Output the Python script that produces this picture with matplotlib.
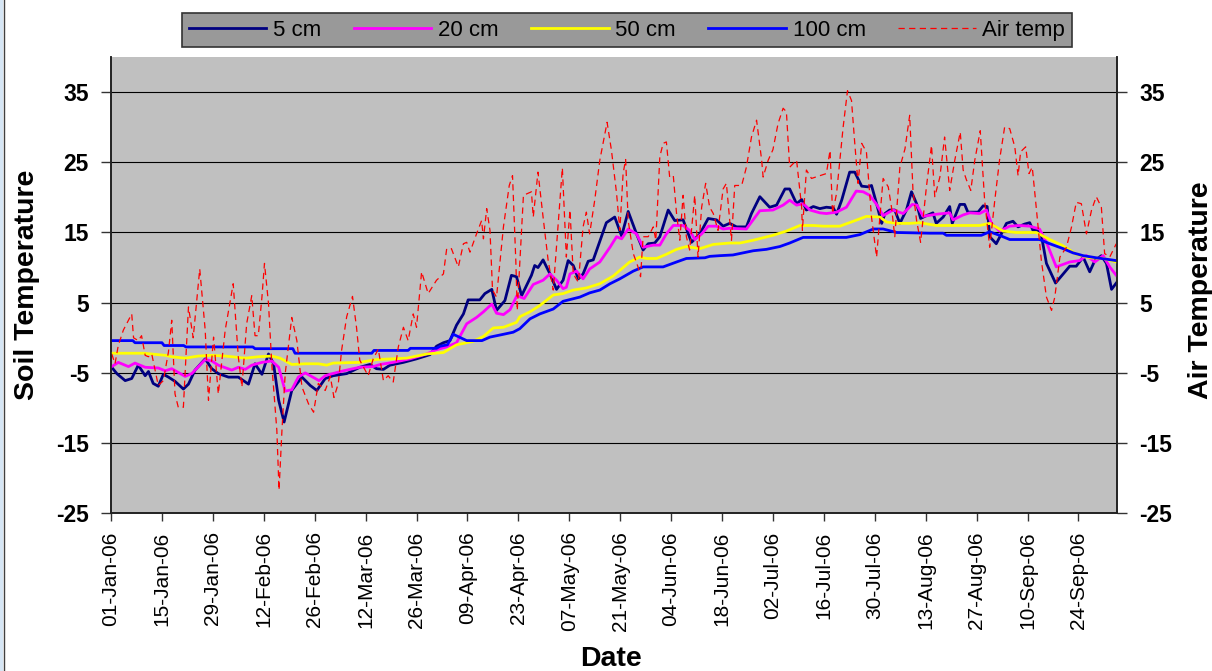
import numpy as np
import pandas as pd
import matplotlib
matplotlib.use("Agg")
import matplotlib.pyplot as plt
import matplotlib.dates as mdates
from matplotlib.lines import Line2D
from datetime import datetime

# ---- data: day offsets from 1 Jan 2006 and temperatures (deg C) ----
d5 = [0.2, 1.6, 3.9, 5.7, 7.5, 9.4, 10.3, 11.6, 13.0, 14.4, 15.8, 17.6, 19.9, 21.3, 23.1, 25.9, 27.7, 29.5,
      32.3, 35.0, 37.8, 39.6, 41.5, 43.3, 44.7, 46.1, 47.6, 49.7, 52.5, 54.8, 56.6, 58.9, 61.1, 64.8, 68.4,
      71.2, 73.0, 74.9, 76.7, 80.4, 84.0, 87.7, 89.5, 91.4, 93.2, 95.0, 96.9, 98.2, 101.4, 102.8, 104.7,
      106.0, 108.3, 110.1, 111.5, 112.9, 115.6, 116.5, 117.4, 118.8, 120.7, 122.5, 124.3, 125.7, 127.1,
      128.5, 129.8, 131.2, 132.6, 136.2, 138.5, 140.4, 142.2, 144.5, 146.3, 147.7, 149.5, 150.9, 153.2,
      155.0, 157.3, 159.6, 161.9, 164.2, 166.5, 168.3, 170.1, 172.0, 174.7, 176.1, 178.4, 181.1, 183.0,
      185.3, 186.6, 188.5, 189.9, 191.2, 193.1, 194.9, 196.7, 198.6, 199.5, 200.9, 203.1, 204.5, 206.4,
      208.2, 209.1, 210.5, 211.9, 212.8, 214.1, 215.5, 216.9, 218.7, 220.1, 221.5, 222.6, 224.2, 226.0,
      226.9, 228.8, 230.6, 231.3, 233.4, 234.7, 235.6, 238.4, 239.8, 240.9, 241.6, 243.4, 244.8, 246.2,
      248.0, 249.4, 251.2, 252.6, 253.5, 254.9, 255.8, 257.2, 259.7, 261.8, 263.6, 265.4, 267.3, 269.1,
      270.5, 272.3, 273.7, 275.1, 276.4]
t5 = [-4.2, -5.1, -6.1, -5.8, -3.9, -5.4, -4.8, -6.5, -6.9, -5.2, -5.6, -6.2, -7.3, -6.6, -4.6, -3.0, -4.4,
      -5.1, -5.6, -5.6, -6.6, -3.7, -5.2, -2.3, -3.7, -8.9, -12.0, -7.5, -5.6, -6.8, -7.5, -5.8, -5.4, -5.1,
      -4.2, -3.8, -4.4, -4.5, -3.9, -3.5, -3.0, -2.4, -1.2, -0.7, -0.4, 1.8, 3.4, 5.4, 5.4, 6.3, 6.9, 3.9,
      5.3, 8.9, 8.7, 6.0, 8.9, 10.3, 10.0, 11.1, 9.1, 6.9, 8.2, 11.0, 10.3, 8.4, 9.1, 10.9, 11.1, 16.4,
      17.2, 14.5, 18.0, 14.8, 12.5, 13.4, 13.5, 14.4, 18.2, 16.7, 16.8, 13.6, 14.8, 17.0, 16.8, 15.9, 16.3,
      15.8, 15.8, 17.7, 20.1, 18.6, 18.9, 21.2, 21.2, 19.1, 19.7, 18.2, 18.7, 18.4, 18.6, 18.5, 17.6, 19.6,
      23.6, 23.6, 21.6, 21.5, 21.7, 19.1, 16.3, 17.7, 18.2, 18.2, 16.3, 18.2, 20.8, 19.1, 17.0, 17.4, 17.8,
      16.3, 17.2, 18.7, 16.3, 19.0, 19.0, 17.9, 17.9, 18.8, 18.7, 14.4, 13.4, 14.8, 16.3, 16.6, 15.8, 16.2,
      16.4, 15.3, 15.3, 14.6, 10.6, 7.8, 9.1, 10.2, 10.2, 11.5, 9.4, 11.0, 11.7, 10.6, 6.9, 7.8]

d20 = [0.2, 2.0, 4.8, 6.6, 9.4, 13.0, 14.9, 16.7, 20.4, 22.2, 25.9, 27.7, 29.5, 33.2, 35.0, 36.9, 38.7,
       41.5, 44.2, 46.1, 47.9, 49.7, 51.5, 53.4, 57.2, 58.9, 60.2, 63.9, 68.4, 72.1, 74.0, 77.6, 82.2, 86.8,
       89.5, 92.3, 95.0, 97.8, 100.5, 102.4, 104.7, 106.0, 107.9, 109.7, 111.6, 113.6, 116.1, 118.8, 120.7,
       122.5, 124.3, 125.2, 126.2, 128.0, 129.8, 131.6, 134.4, 137.2, 139.0, 140.4, 142.2, 144.5, 146.3,
       149.1, 150.9, 152.7, 154.6, 157.3, 159.1, 160.5, 162.4, 164.2, 166.5, 168.3, 170.1, 174.7, 178.4,
       182.0, 184.8, 186.6, 188.5, 190.3, 192.2, 194.9, 196.7, 199.5, 202.2, 204.9, 206.8, 208.6, 210.5,
       212.3, 215.0, 217.8, 220.3, 221.6, 223.3, 226.9, 230.6, 231.5, 234.3, 236.1, 238.8, 240.7, 242.1,
       244.3, 247.1, 249.8, 252.6, 255.3, 257.2, 259.9, 263.6, 266.3, 268.2, 270.5, 272.8, 274.6, 276.4]
t20 = [-4.1, -3.5, -4.1, -3.6, -4.2, -4.3, -4.7, -4.4, -5.5, -5.1, -3.1, -3.3, -3.9, -4.6, -4.2, -4.5, -3.9,
       -3.5, -3.3, -4.2, -7.6, -7.4, -5.6, -5.0, -6.1, -5.4, -5.2, -4.7, -4.2, -4.1, -3.8, -3.5, -3.0, -2.3,
       -1.7, -1.3, -0.7, 2.0, 2.9, 3.7, 4.8, 3.5, 3.3, 4.0, 6.0, 5.6, 7.6, 8.2, 9.1, 8.2, 7.0, 7.2, 9.1, 9.5,
       8.4, 9.8, 10.8, 12.9, 14.4, 14.1, 15.5, 14.8, 12.9, 13.2, 13.2, 14.8, 16.0, 16.0, 15.3, 14.0, 14.8,
       15.9, 15.9, 15.5, 15.6, 15.5, 18.1, 18.2, 18.9, 19.6, 18.9, 19.1, 18.2, 17.8, 17.7, 17.9, 18.6, 20.9,
       20.8, 20.3, 19.0, 17.4, 18.2, 17.7, 19.0, 18.9, 17.3, 17.6, 17.8, 16.8, 17.5, 17.8, 17.7, 18.2, 16.3,
       15.2, 15.9, 16.0, 15.9, 15.5, 13.6, 10.1, 10.8, 11.0, 11.7, 10.8, 11.7, 10.1, 8.9]

d50 = [0.2, 9.0, 15.0, 16.7, 20.4, 24.0, 27.7, 31.4, 36.9, 40.5, 44.2, 46.5, 49.7, 53.4, 57.0, 59.3, 61.1,
       68.4, 73.0, 81.3, 86.8, 91.4, 95.0, 99.6, 102.4, 105.1, 107.9, 111.5, 112.4, 115.2, 117.9, 121.6,
       124.3, 127.1, 130.7, 134.4, 138.1, 142.6, 145.4, 147.2, 150.0, 152.7, 155.5, 158.2, 161.9, 165.6,
       170.1, 172.9, 176.6, 182.0, 185.7, 189.4, 193.1, 195.8, 200.4, 204.1, 207.7, 211.4, 213.2, 216.0,
       219.6, 222.3, 226.9, 238.8, 241.6, 245.3, 248.9, 254.4, 258.1, 261.8, 265.4, 269.1, 272.8, 276.4]
t50 = [-2.2, -2.2, -2.5, -2.7, -2.9, -2.6, -2.5, -2.6, -2.9, -2.7, -2.6, -2.9, -3.8, -3.7, -3.7, -3.9, -3.6,
       -3.5, -3.1, -2.9, -2.3, -2.1, -1.0, -0.5, 0.2, 1.4, 1.5, 2.2, 3.0, 3.7, 4.6, 6.1, 6.3, 6.8, 7.1, 7.7,
       8.8, 10.8, 11.5, 11.3, 11.3, 11.9, 12.6, 13.0, 12.7, 13.3, 13.5, 13.5, 13.9, 14.6, 15.2, 16.0, 16.0,
       15.9, 15.9, 16.6, 17.3, 17.2, 16.5, 16.3, 16.3, 16.4, 16.0, 16.0, 16.3, 15.2, 15.0, 15.0, 14.0, 13.1,
       11.9, 11.4, 11.3, 10.8]

d100 = [0.2, 6.0, 6.6, 14.0, 14.6, 20.0, 20.6, 39.0, 39.6, 50.0, 50.6, 71.7, 72.3, 81.7, 82.3, 89.5, 90.5,
        92.5, 94.1, 97.8, 102.0, 104.2, 107.9, 110.6, 112.4, 115.2, 117.9, 121.6, 124.3, 128.9, 131.6, 134.4,
        137.2, 139.9, 143.6, 146.3, 151.8, 155.5, 158.2, 163.3, 164.6, 167.4, 171.0, 176.6, 180.2, 183.9,
        186.6, 190.3, 202.2, 205.9, 209.6, 212.3, 216.0, 225.1, 228.8, 229.7, 239.3, 241.6, 244.3, 247.1,
        255.3, 258.1, 261.8, 264.5, 267.3, 270.9, 276.4]
t100 = [-0.4, -0.4, -0.7, -0.7, -1.1, -1.1, -1.3, -1.3, -1.55, -1.55, -2.2, -2.2, -1.8, -1.8, -1.5, -1.5,
        -1.2, -1.0, 0.5, -0.4, -0.4, 0.1, 0.5, 0.8, 1.3, 2.7, 3.4, 4.1, 5.2, 5.8, 6.4, 6.8, 7.7, 8.4, 9.5,
        10.1, 10.1, 10.8, 11.3, 11.4, 11.6, 11.7, 11.8, 12.4, 12.6, 13.0, 13.5, 14.3, 14.3, 14.7, 15.5, 15.5,
        15.0, 14.9, 14.9, 14.6, 14.6, 15.1, 14.6, 14.0, 14.0, 13.4, 12.7, 12.1, 11.7, 11.4, 11.0]

d_air = [0.2, 1.1, 2.0, 3.4, 5.7, 6.2, 7.5, 8.4, 9.4, 10.3, 11.2, 13.0, 14.4, 15.8, 16.7, 17.6, 18.5, 19.9,
         21.3, 22.6, 24.4, 25.9, 26.8, 28.2, 29.5, 31.4, 33.6, 35.0, 36.0, 37.3, 38.7, 39.6, 40.5, 41.5, 42.2,
         43.3, 44.2, 45.6, 46.2, 47.0, 47.9, 49.7, 51.1, 52.5, 54.3, 55.7, 57.0, 58.9, 60.3, 61.3, 62.5, 63.4,
         64.8, 66.4, 67.5, 68.4, 70.7, 72.1, 73.5, 74.9, 76.2, 77.6, 79.0, 80.4, 81.7, 83.1, 84.0, 85.4, 87.2,
         89.5, 91.4, 92.3, 93.6, 95.5, 96.9, 97.8, 98.7, 100.5, 101.9, 102.4, 103.3, 104.2, 104.9, 106.0,
         107.9, 109.5, 110.4, 111.3, 111.7, 113.4, 115.6, 116.1, 117.4, 118.8, 120.2, 121.6, 122.9, 124.1,
         125.2, 126.2, 127.1, 128.5, 129.8, 130.7, 131.6, 133.0, 134.4, 135.8, 136.4, 137.6, 139.0, 139.9,
         140.8, 141.5, 142.2, 143.6, 144.9, 145.6, 146.3, 147.7, 149.1, 149.8, 150.9, 151.8, 152.7, 153.6,
         154.6, 155.5, 156.4, 157.3, 158.2, 159.1, 160.5, 161.4, 162.4, 163.5, 164.6, 165.6, 166.9, 168.3,
         169.2, 170.6, 171.5, 173.4, 174.7, 176.1, 177.5, 178.9, 179.3, 180.7, 182.0, 183.4, 184.8, 185.7,
         186.6, 188.5, 189.9, 190.1, 191.2, 192.6, 194.9, 196.7, 197.7, 198.4, 199.5, 200.4, 201.3, 202.5,
         203.6, 204.5, 205.4, 206.4, 207.7, 209.1, 210.5, 211.4, 212.3, 213.7, 214.6, 215.5, 216.9, 218.3,
         219.6, 220.5, 221.5, 222.6, 224.2, 225.6, 226.5, 227.9, 229.2, 230.6, 232.0, 233.5, 234.3, 235.2,
         236.4, 237.5, 239.0, 240.2, 241.6, 243.0, 244.3, 245.7, 247.1, 248.5, 249.4, 250.1, 251.5, 252.4,
         253.3, 254.2, 255.8, 257.2, 258.6, 259.5, 260.9, 262.7, 264.1, 265.4, 266.8, 268.2, 269.6, 270.9,
         272.3, 273.2, 274.6, 276.4]
t_air = [-2.3, -3.7, -1.1, 1.1, 3.4, 0.0, -0.4, 0.3, -2.5, -2.7, -2.3, -6.8, -6.1, -2.0, 2.5, -8.0, -9.9,
         -9.9, 4.4, 0.0, 9.8, 1.1, -8.9, 0.1, -8.0, 1.1, 7.7, -2.7, -7.0, 2.0, 6.0, 0.3, 0.3, 5.8, 10.6, 4.9,
         -3.7, -13.2, -21.7, -13.2, -5.1, 2.9, -0.4, -7.0, -9.4, -10.6, -6.5, -7.5, -5.5, -8.5, -6.5, -1.8,
         3.0, 5.9, 1.5, -3.2, -5.4, -3.0, -1.6, -6.1, -5.4, -6.3, -1.3, 1.5, -0.4, 3.4, 1.5, 9.4, 6.3, 8.2,
         9.1, 12.7, 12.7, 10.1, 13.4, 13.6, 12.2, 14.8, 16.7, 14.1, 18.4, 15.3, 6.8, 5.8, 15.8, 21.7, 23.1,
         11.0, 3.9, 20.3, 20.8, 17.2, 23.6, 17.2, 11.0, 6.8, 15.8, 24.2, 11.5, 18.2, 9.1, 7.9, 15.8, 17.9,
         14.8, 19.6, 25.3, 29.1, 30.7, 26.7, 20.6, 15.3, 23.4, 25.4, 16.7, 12.0, 10.1, 8.7, 14.4, 14.4, 15.8,
         13.9, 25.8, 27.7, 27.9, 22.9, 23.1, 17.7, 13.9, 20.3, 14.4, 12.5, 20.3, 11.5, 18.6, 22.0, 18.6, 17.7,
         15.3, 21.2, 22.0, 13.9, 21.7, 21.7, 24.3, 28.6, 31.0, 25.3, 22.9, 25.3, 26.8, 30.5, 32.7, 32.2, 24.3,
         25.3, 18.6, 15.3, 23.9, 22.7, 23.1, 23.4, 26.7, 17.7, 20.6, 25.3, 30.0, 35.2, 33.8, 27.7, 22.0, 27.7,
         26.5, 17.2, 11.5, 17.2, 22.7, 21.5, 18.6, 14.4, 24.3, 26.9, 31.7, 21.0, 16.7, 13.6, 21.5, 27.4, 20.1,
         22.9, 28.6, 21.0, 25.3, 29.3, 23.9, 22.5, 21.0, 25.3, 29.5, 19.6, 12.9, 19.6, 25.3, 30.0, 29.8, 27.2,
         23.1, 26.5, 27.2, 23.4, 24.3, 19.6, 11.0, 5.8, 3.9, 5.8, 11.5, 12.9, 15.8, 19.3, 19.1, 14.8, 18.2,
         20.1, 18.6, 12.0, 11.5, 13.4]

y_ticks = [-25, -15, -5, 5, 15, 25, 35]
labels = ["5 cm", "20 cm", "50 cm", "100 cm", "Air temp"]
colors = ["#000080", "#FF00FF", "#FFFF00", "#0000FF", "#FF0000"]

# ---- figure ----
plt.rcParams["font.family"] = ["Liberation Sans", "DejaVu Sans"]
plt.rcParams["axes.unicode_minus"] = False
W, H = 1212, 671
fig = plt.figure(figsize=(W / 100, H / 100), dpi=100, facecolor="white")

left, right, top, bottom = 111, 1117, 57, 513.3
ax = fig.add_axes([left / W, 1 - bottom / H, (right - left) / W, (bottom - top) / H])
ax.set_facecolor("#C0C0C0")
ax2 = ax.twinx()

t0 = mdates.date2num(datetime(2006, 1, 1))
def to_x(days):
    return t0 + np.asarray(days, dtype=float)

lw = 2.0
ax.plot(to_x(d5), t5, color=colors[0], lw=lw, zorder=3)
ax.plot(to_x(d20), t20, color=colors[1], lw=lw, zorder=3)
ax.plot(to_x(d50), t50, color=colors[2], lw=lw, zorder=3)
ax.plot(to_x(d100), t100, color=colors[3], lw=lw, zorder=3)
ax2.plot(to_x(d_air), t_air, color=colors[4], lw=0.9, dashes=(5, 3.5))

for a in (ax, ax2):
    a.set_ylim(-25, 40)
    a.set_yticks(y_ticks)
    a.set_xlim(t0, t0 + 276.6)

ax.grid(axis="y", color="black", lw=0.8)
ax.set_axisbelow(True)

tick_dates = pd.date_range("2006-01-01", "2006-09-30", freq="14D")
ax.set_xticks(mdates.date2num(tick_dates.to_pydatetime()))
ax.xaxis.set_major_formatter(mdates.DateFormatter("%d-%b-%y"))
ax.tick_params(axis="x", direction="out", length=6, width=1, color="#333333",
               labelsize=15, labelrotation=90, pad=7)
ax.tick_params(axis="y", direction="out", length=7, width=1, color="#333333",
               labelsize=16.5, pad=9)
ax2.tick_params(axis="y", direction="out", length=7, width=1, color="#333333",
                labelsize=16.5, pad=9)
for lab in ax.get_yticklabels() + ax2.get_yticklabels():
    lab.set_fontweight("bold")

for a in (ax, ax2):
    a.spines["top"].set_visible(False)
    for s in ("left", "right", "bottom"):
        a.spines[s].set_color("#222222")
        a.spines[s].set_linewidth(1.2)

ax.set_ylabel("Soil Temperature", fontsize=20.5, fontweight="bold")
ax.yaxis.set_label_coords(-0.071, 0.5)
ax2.set_ylabel("Air Temperature", fontsize=20.5, fontweight="bold")
ax2.yaxis.set_label_coords(1.071, 0.49)
ax.set_xlabel("Date", fontsize=20.5, fontweight="bold")
ax.xaxis.set_label_coords(0.497, -0.29)

# legend across the top
handles = [Line2D([], [], color=c, lw=lw) for c in colors[:4]]
handles.append(Line2D([], [], color=colors[4], lw=0.9, dashes=(5, 3.5)))
leg = fig.legend(handles, labels, loc="upper center", bbox_to_anchor=(627 / W, 1 - 2 / H),
                 ncol=5, fontsize=16, frameon=True, fancybox=False, framealpha=1,
                 facecolor="#999999", edgecolor="#333333", handlelength=3.5,
                 handletextpad=0.3, columnspacing=1.45, borderpad=0.3)
leg.get_frame().set_linewidth(1.2)

# chart frame edge on the left
fig.add_artist(plt.Rectangle((0, 0), 3 / W, 1, transform=fig.transFigure,
                             facecolor="#D6E6F5", edgecolor="none"))
fig.add_artist(Line2D([3.5 / W, 3.5 / W], [0, 1], transform=fig.transFigure,
                      color="#404040", lw=1))

fig.savefig("out.png", dpi=100, facecolor="white")
